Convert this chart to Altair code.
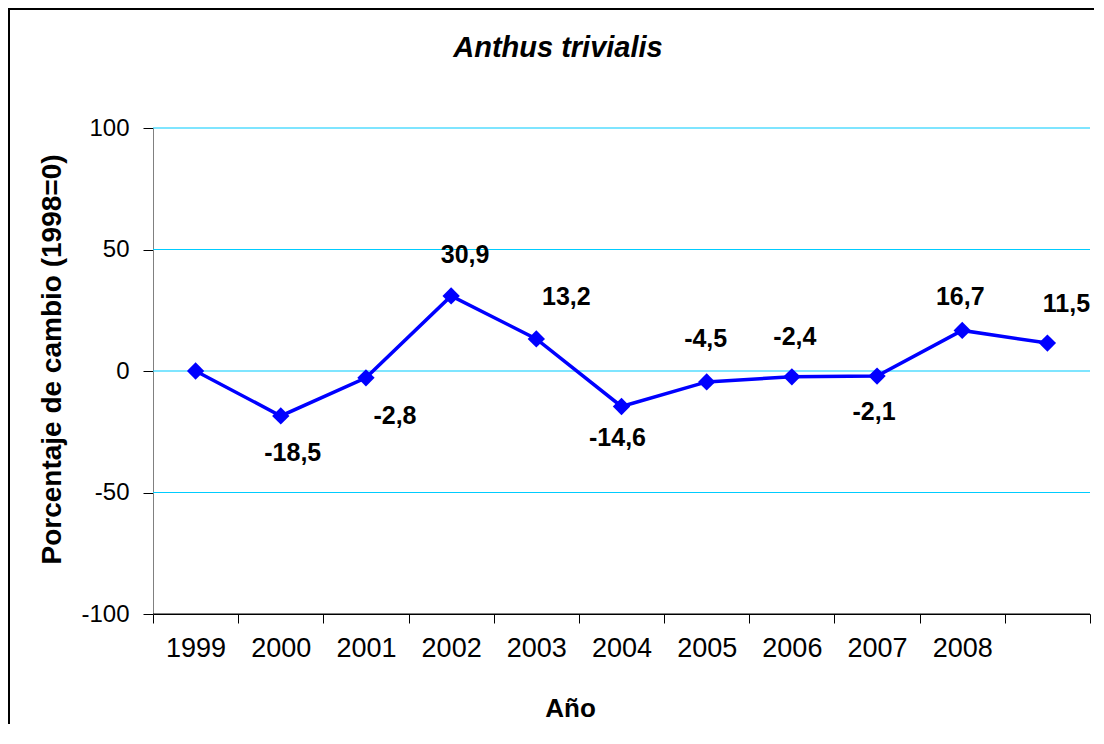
import altair as alt
import pandas as pd

categories = ["1999", "2000", "2001", "2002", "2003", "2004", "2005", "2006", "2007", "2008", " "]
values = [0, -18.5, -2.8, 30.9, 13.2, -14.6, -4.5, -2.4, -2.1, 16.7, 11.5]
labels = ["", "-18,5", "-2,8", "30,9", "13,2", "-14,6", "-4,5", "-2,4", "-2,1", "16,7", "11,5"]
y_ticks = [-100, -50, 0, 50, 100]
grid_values = [-50, 0, 50, 100]
baseline_value = [-100]
title_text = "Anthus trivialis"

# label placement offsets (pixels), style only
label_dx = [0, 12, 29, 14, 30, -4, -1, 3, -3, -2, 19]
label_dy = [0, 37, 38, -41, -42, 32, -43, -40, 36, -33, -39]

FONT = "Liberation Sans"
BLUE = "#0000FF"
CYAN = "#00CCFF"

df = pd.DataFrame({"cat": categories, "val": values, "lab": labels})

xaxis = alt.Axis(
    title="Año",
    labelAngle=0,
    tickBand="extent",
    grid=False,
    domain=True,
    domainColor="#000000",
    domainWidth=1,
    tickColor="#000000",
    tickSize=9,
    labelFont=FONT,
    labelFontSize=27,
    labelColor="#000000",
    labelPadding=12,
    titleFont=FONT,
    titleFontSize=26,
    titleFontWeight="bold",
    titleColor="#000000",
    titleX=417,
    titleY=94,
    titleAlign="center",
    titleBaseline="middle",
)
xscale = alt.Scale(type="band", paddingInner=0, paddingOuter=0)
xenc = alt.X("cat:N", sort=categories, scale=xscale, axis=xaxis)

yscale = alt.Scale(domain=[-100, 100], nice=False)
yaxis = alt.Axis(
    values=y_ticks,
    format="d",
    title="Porcentaje de cambio (1998=0)",
    grid=False,
    domain=True,
    domainColor="#808080",
    domainWidth=1,
    tickColor="#000000",
    tickSize=10,
    labelFont=FONT,
    labelFontSize=24,
    labelColor="#000000",
    labelPadding=14,
    labelExpr="replace(datum.label, '−', '-')",
    titleFont=FONT,
    titleFontSize=28,
    titleFontWeight="bold",
    titleColor="#000000",
    titleAngle=270,
    titleX=-101,
    titleY=231,
    titleAlign="center",
    titleBaseline="middle",
)
yenc = alt.Y("val:Q", scale=yscale, axis=yaxis)

grid = (
    alt.Chart(pd.DataFrame({"g": grid_values}))
    .mark_rule(color=CYAN, strokeWidth=1.2)
    .encode(y=alt.Y("g:Q", scale=yscale, axis=yaxis))
)
baseline = (
    alt.Chart(pd.DataFrame({"g": baseline_value}))
    .mark_rule(color="#000000", strokeWidth=1.2)
    .encode(y=alt.Y("g:Q", scale=yscale, axis=yaxis))
)

base = alt.Chart(df)
line = base.mark_line(color=BLUE, strokeWidth=3.5).encode(x=xenc, y=yenc)
pts = base.mark_point(shape="diamond", filled=True, color=BLUE, size=300, opacity=1).encode(
    x=xenc, y=yenc
)

text_layers = []
for i, lab in enumerate(labels):
    if not lab:
        continue
    t = (
        alt.Chart(df.iloc[[i]])
        .mark_text(
            font=FONT,
            fontSize=25,
            fontWeight="bold",
            color="#000000",
            align="center",
            baseline="middle",
            dx=label_dx[i],
            dy=label_dy[i],
        )
        .encode(x=xenc, y=yenc, text="lab:N")
    )
    text_layers.append(t)

frame = (
    alt.Chart(pd.DataFrame({"a": [0]}))
    .mark_rect(fill=None, stroke="#000000", strokeWidth=2)
    .encode(x=alt.value(-144), x2=alt.value(980), y=alt.value(-119), y2=alt.value(700))
)

title = (
    alt.Chart(pd.DataFrame({"t": [title_text]}))
    .mark_text(
        font=FONT,
        fontSize=29,
        fontStyle="italic",
        fontWeight="bold",
        color="#000000",
        align="center",
        baseline="middle",
    )
    .encode(text="t:N", x=alt.value(405), y=alt.value(-80))
)

chart = (
    alt.layer(grid, baseline, line, pts, *text_layers, frame, title)
    .properties(
        width=937,
        height=486,
        padding={"left": 145, "top": 120, "right": 4, "bottom": 110},
        autosize=alt.AutoSizeParams(type="none"),
        background="#FFFFFF",
    )
    .configure_view(stroke=None)
)

chart.save("out.html", embed_options={"renderer": "svg", "actions": False})
